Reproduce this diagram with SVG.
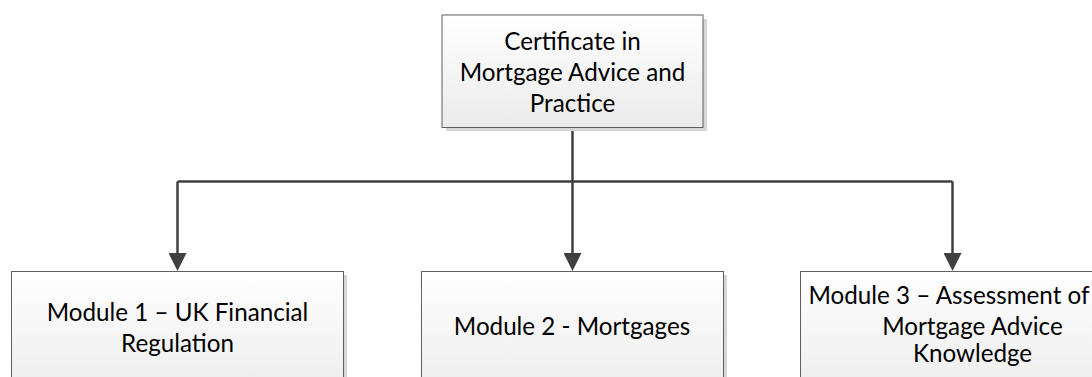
<svg xmlns="http://www.w3.org/2000/svg" width="1092" height="377" viewBox="0 0 1092 377">
  <style>
    .box { fill: url(#g); stroke: #5f5f5f; stroke-width: 1; }
    .sh { fill: #d6d6d6; }
    .lbl { font-family: Lato, "Liberation Sans", sans-serif; font-size: 24.2px; fill: #000; text-anchor: middle; }
    .con { fill: none; stroke: #404040; stroke-width: 2.5; }
  </style>
  <defs>
    <linearGradient id="g" x1="0" y1="0" x2="0" y2="1">
      <stop offset="0" stop-color="#ffffff"/>
      <stop offset="1" stop-color="#ebebeb"/>
    </linearGradient>
    <marker id="ah" markerUnits="userSpaceOnUse" markerWidth="18" markerHeight="18" viewBox="0 0 18 18" refX="9" refY="9" orient="auto">
      <path d="M0,0 L18,9 L0,18 Z" fill="#404040"/>
    </marker>
  </defs>
  <rect width="1092" height="377" fill="#ffffff"/>

  <g id="connectors">
    <path class="con" d="M572.5 128 V262" marker-end="url(#ah)"/>
    <path class="con" d="M177.5 181.5 H952.5"/>
    <path class="con" d="M177.5 181.5 V262" marker-end="url(#ah)"/>
    <path class="con" d="M952.5 181.5 V262" marker-end="url(#ah)"/>
  </g>

  <g id="node-certificate">
    <rect class="sh" x="446" y="19" width="261" height="112"/>
    <rect class="box" x="442" y="15" width="261" height="112.5"/>
    <text class="lbl" x="572.5" y="49.5">Certificate in</text>
    <text class="lbl" x="572.5" y="80.5">Mortgage Advice and</text>
    <text class="lbl" x="572.5" y="111.5">Practice</text>
  </g>

  <g id="node-module1">
    <rect class="sh" x="15" y="275" width="332" height="130"/>
    <rect class="box" x="11.5" y="271.5" width="332" height="130"/>
    <text class="lbl" x="177.5" y="321">Module 1 – UK Financial</text>
    <text class="lbl" x="177.5" y="352">Regulation</text>
  </g>

  <g id="node-module2">
    <rect class="sh" x="425" y="275" width="302" height="130"/>
    <rect class="box" x="421.5" y="271.5" width="302" height="130"/>
    <text class="lbl" x="572" y="335">Module 2 - Mortgages</text>
  </g>

  <g id="node-module3">
    <rect class="sh" x="804" y="275" width="340" height="130"/>
    <rect class="box" x="800.5" y="271.5" width="340" height="130"/>
    <text class="lbl" x="949" y="303.5">Module 3 – Assessment of</text>
    <text class="lbl" x="972.5" y="335">Mortgage Advice</text>
    <text class="lbl" x="972.5" y="362">Knowledge</text>
  </g>
</svg>
